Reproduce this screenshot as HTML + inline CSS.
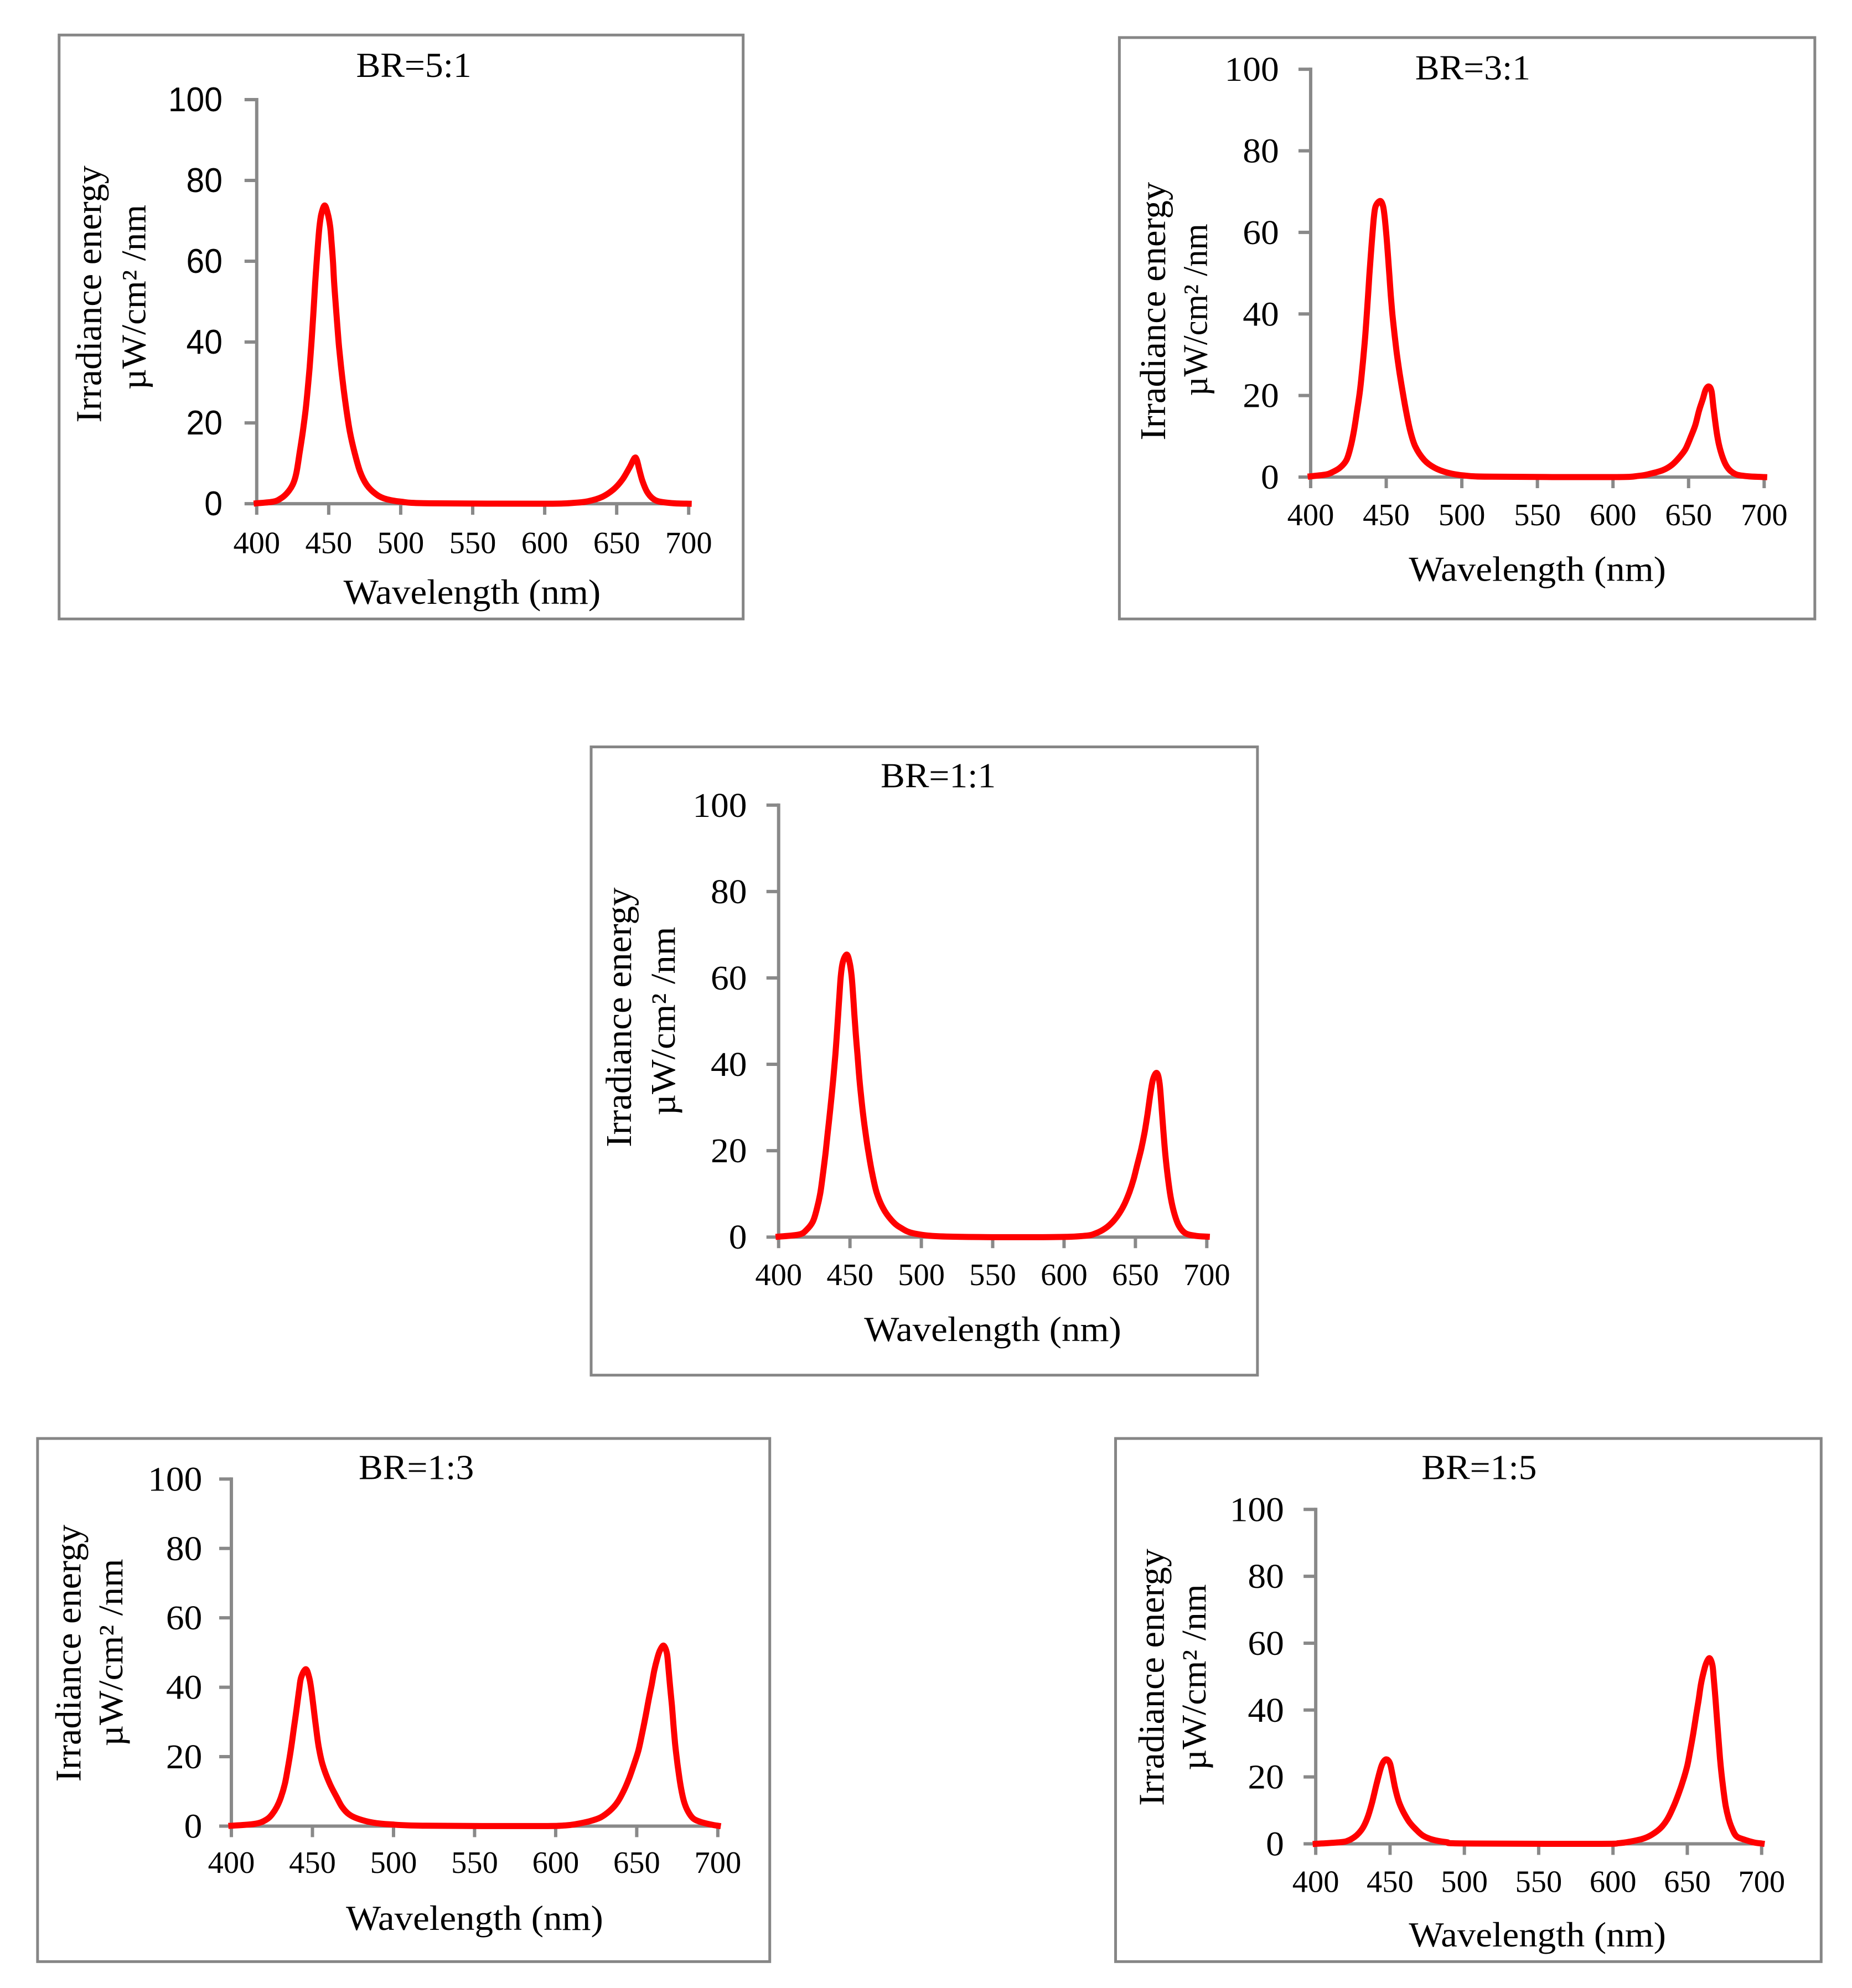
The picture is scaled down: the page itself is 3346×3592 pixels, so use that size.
<!DOCTYPE html>
<html lang="en">
<head>
<meta charset="utf-8">
<title>Irradiance spectra for five blue:red ratios</title>
<style>
html,body{margin:0;padding:0;background:#fff}
svg{display:block}
text{font-family:"Liberation Serif",serif;fill:#000}
</style>
</head>
<body>
<svg id="figure" xmlns="http://www.w3.org/2000/svg" width="3346" height="3592" viewBox="0 0 3346 3592"></svg>
<script>
const xTickLabels = [400, 450, 500, 550, 600, 650, 700];
const yTickLabels = [0, 20, 40, 60, 80, 100];

const wl51 = [400,411.5,416.7,421,425,427.5,429.8,432,433.9,435.4,436.7,437.8,438.8,439.7,440.6,441.6,442.7,443.6,444.9,447.2,449.4,451,451.9,453,453.8,454.9,456,457.2,458.7,460.4,462.4,464.7,468,471.8,476.3,482,488.5,500,520,600,620,630,640,648,654,659,662.4,664,666,668,671,675,680,690,700];
const irr51 = [0.1,0.5,1.3,2.6,4.7,7.5,12.6,17.8,23,28.3,33.5,38.7,44,49.2,54.5,59.7,65,68.6,71.7,73.8,71.7,68.6,65,59.7,54.5,49.2,44,38.7,33.5,28.3,23,17.8,12.6,7.9,4.7,2.6,1.3,0.5,0.1,0,0.2,0.6,1.7,3.6,6,9,11.3,10.8,8,5.5,3,1.3,0.5,0.1,0];

const wl31 = [400,409.6,413.8,419.4,423.7,426.5,428.6,430.6,432.5,433.9,435.1,436.2,437.1,438,438.8,439.7,440.7,441.8,443,446,447.9,449,450.2,451.2,452.1,453,454.1,455.5,457,458.8,460.9,463.2,465.9,469.2,475.1,481.9,490.4,501.5,520,600,617,624.5,633,639,644,648,651.5,654.5,657,659.4,661.3,663.5,665.2,666.4,667.6,668.8,670.2,672.3,674.8,677.8,682,689.5,700];
const irr31 = [0.2,0.6,1.1,2.3,4.2,7.5,11.3,16,20.8,25.6,30.3,35,39.8,44.6,49.3,54,58.8,63.6,66.4,67.7,66.4,63.6,58.8,54,49.3,44.6,39.8,35,30.3,25.6,20.8,16,11.3,7.5,4.2,2.3,1.1,0.4,0.1,0,0.3,0.8,1.7,3,4.9,6.9,9.9,12.8,16.4,19.1,21.4,22.2,21,17.3,13.7,10.5,7.8,5.1,2.9,1.5,0.6,0.2,0];

const wl11 = [400,414.4,419.6,424,427,429.3,431.2,432.9,434.4,435.9,437.3,438.6,439.8,440.8,441.7,442.6,443.6,445.1,447.7,449.6,451.1,452.2,453.1,454.1,455.2,456.3,457.6,459.1,460.9,463,465.4,468.6,473,478.9,485.3,495.6,520,590,614.6,622.4,628.8,634,638.5,642.4,645.9,648.8,651.4,654,656.4,658.5,660.5,662.4,665,666.9,668.2,669.5,671,672.7,674.7,677.3,680.5,685,692.1,700];
const irr11 = [0.1,0.6,1.7,3.6,6.8,10.4,15,19.5,24.1,28.7,33.2,37.8,42.4,46.9,51.5,56,60.6,63.8,65.4,63.8,60.6,56,51.5,46.9,42.4,37.8,33.2,28.7,24.1,19.5,15,10.4,6.8,4,2.2,0.8,0.1,0,0.3,0.9,2,3.5,5.4,7.7,10.5,13.5,16.9,20.3,24.2,28.5,33.2,36.6,38,35.7,30.6,25,19,13.9,9.2,5.4,2.6,0.9,0.3,0.1];

const wl13 = [400,412,417.7,422.3,425.1,428,430.5,433.1,435.2,437,438.6,440.2,441.7,443,445.9,448,449.4,450.8,452.2,453.8,456.2,460.5,465.1,468.3,472.5,478.2,487.3,497.6,520,590,606,612.9,620.9,627.7,633.4,638,642,645.4,648.6,651.1,653.1,655.2,657.3,659.1,660.8,662.6,664.3,666.6,668.5,669.4,670.5,671.7,672.6,673.6,674.6,675.8,677.4,679.2,681.4,684.8,689.4,696.2,700];
const irr13 = [0.1,0.5,1,2.1,3.4,5.5,8.2,12.4,17.8,23,28.4,33.7,39,42.8,45.2,42.8,39,33.7,28.4,23,17.8,12.4,8.2,5.5,3.4,2.1,1,0.5,0.1,0,0.2,0.6,1.4,2.5,4.4,6.8,10.2,13.9,18.2,21.9,26.2,31,36.3,40.5,44.8,48.2,50.6,52,50,46.4,40.5,34.7,29.4,24,19.8,15.5,10.7,7,4.4,2.2,1.2,0.4,0.1];

const wl15 = [400,417,422,426,429,432,435,438,441,444,446,448,450,451.5,453.5,456,459,463,467,472,479,488,500,590,604,612,620,626,632,636.5,640.5,644,647.5,650,652,654,656,657.6,659.2,661,662.7,665,666.9,667.8,669,670,671,672,673,674.2,675.8,677.8,680,683,688,695,700];
const irr15 = [0,0.5,1,2,3.2,5,8,12.5,18,23,24.8,25.2,24,21,16.5,12.5,9.5,6.5,4.5,2.5,1.2,0.5,0.1,0,0.2,0.7,1.5,2.7,4.7,7.3,10.9,14.8,19.4,23.4,28,33,38.7,43,47.8,51.4,54,55.5,53.4,49.5,43,37,31.4,25.6,21,16.5,11.4,7.5,4.7,2.3,1.3,0.4,0.1];

const S = 3346 / 1462;
const panels = [
  {id:'br-5-1', title:'BR=5:1', wl:wl51, irr:irr51, box:[46,27,586,488], ax:202, x700:543, y100:78, y0:397,
   titleX:326, titleY:60, labelRight:175, xLabelY:436, xTitleX:372, xTitleY:476,
   irrX:79, irrA:130, irrB:333, uwX:114, uwA:161, uwB:307, tickFont:'"Liberation Sans",sans-serif'},
  {id:'br-3-1', title:'BR=3:1', wl:wl31, irr:irr31, box:[883,29,1432,488], ax:1034, x700:1392, y100:54, y0:376,
   titleX:1162, titleY:62, labelRight:1009, xLabelY:414, xTitleX:1213, xTitleY:458,
   irrX:919, irrA:143, irrB:347, uwX:952, uwA:176, uwB:312},
  {id:'br-1-1', title:'BR=1:1', wl:wl11, irr:irr11, box:[466,589,992,1085], ax:614, x700:952, y100:635, y0:976,
   titleX:740, titleY:621, labelRight:589, xLabelY:1014, xTitleX:783, xTitleY:1058,
   irrX:497.5, irrA:700, irrB:905, uwX:532, uwA:731, uwB:880},
  {id:'br-1-3', title:'BR=1:3', wl:wl13, irr:irr13, box:[29,1135,607,1548], ax:182, x700:566, y100:1167, y0:1441,
   titleX:328, titleY:1167, labelRight:159, xLabelY:1478, xTitleX:374, xTitleY:1523,
   irrX:63, irrA:1203, irrB:1406, uwX:96, uwA:1230, uwB:1378},
  {id:'br-1-5', title:'BR=1:5', wl:wl15, irr:irr15, box:[880,1135,1437,1548], ax:1038, x700:1390, y100:1191, y0:1455,
   titleX:1167, titleY:1167, labelRight:1013, xLabelY:1493, xTitleX:1213, xTitleY:1536,
   irrX:918, irrA:1222, irrB:1425, uwX:951, uwA:1250, uwB:1397}
];

const NS = 'http://www.w3.org/2000/svg';
const root = document.getElementById('figure');

function make(parent, tag, attrs) {
  const el = document.createElementNS(NS, tag);
  for (const k in attrs) el.setAttribute(k, attrs[k]);
  parent.appendChild(el);
  return el;
}

function smoothPath(pts) {
  let d = 'M' + pts[0][0].toFixed(1) + ' ' + pts[0][1].toFixed(1);
  for (let i = 0; i < pts.length - 1; i++) {
    const p0 = pts[Math.max(i - 1, 0)], p1 = pts[i], p2 = pts[i + 1], p3 = pts[Math.min(i + 2, pts.length - 1)];
    const c1x = p1[0] + (p2[0] - p0[0]) / 6, c1y = p1[1] + (p2[1] - p0[1]) / 6;
    const c2x = p2[0] - (p3[0] - p1[0]) / 6, c2y = p2[1] - (p3[1] - p1[1]) / 6;
    d += 'C' + c1x.toFixed(1) + ' ' + c1y.toFixed(1) + ' ' + c2x.toFixed(1) + ' ' + c2y.toFixed(1) + ' ' + p2[0].toFixed(1) + ' ' + p2[1].toFixed(1);
  }
  return d;
}

panels.forEach(function (p) {
  const g = make(root, 'g', {transform:'translate(1.5,1.5)'});
  
  

  const frame = make(g, 'rect', {x:p.box[0]*S, y:p.box[1]*S, width:(p.box[2]-p.box[0])*S, height:(p.box[3]-p.box[1])*S, fill:'#fff', stroke:'#868686', 'stroke-width':5});
  
  

  const xScale = function (v) { return (p.ax + (v - 400) / 300 * (p.x700 - p.ax)) * S; };
  const yScale = function (v) { return (p.y0 - v / 100 * (p.y0 - p.y100)) * S; };
  const AXC = '#898989', AXW = 6, TICK = 22;

  const title = make(g, 'text', {x:p.titleX*S, y:p.titleY*S, 'text-anchor':'middle', 'font-size':64, textLength:91*S, lengthAdjust:'spacingAndGlyphs'});
  title.textContent = p.title;
  
  

  const yAxis = make(g, 'line', {x1:xScale(400), x2:xScale(400), y1:yScale(100)-3, y2:yScale(0), stroke:AXC, 'stroke-width':AXW});
  
  

  const xAxis = make(g, 'line', {x1:xScale(400), x2:xScale(700)+3, y1:yScale(0), y2:yScale(0), stroke:AXC, 'stroke-width':AXW});
  
  

  yTickLabels.forEach(function (v) {
    const t = make(g, 'line', {x1:xScale(400)-TICK, x2:xScale(400), y1:yScale(v), y2:yScale(v), stroke:AXC, 'stroke-width':AXW});
    
    
    const s = String(v);
    const lab = make(g, 'text', {x:p.labelRight*S, y:yScale(v)+21, 'text-anchor':'end', 'font-size':62, textLength:s.length*14.3*S, lengthAdjust:'spacingAndGlyphs'});
    if (p.tickFont) lab.setAttribute('style', 'font-family:' + p.tickFont);
    lab.textContent = s;
    
    
  });

  xTickLabels.forEach(function (v) {
    const t = make(g, 'line', {x1:xScale(v), x2:xScale(v), y1:yScale(0), y2:yScale(0)+20, stroke:AXC, 'stroke-width':AXW});
    
    
    const lab = make(g, 'text', {x:xScale(v), y:p.xLabelY*S, 'text-anchor':'middle', 'font-size':56, textLength:37*S, lengthAdjust:'spacingAndGlyphs'});
    lab.textContent = String(v);
    
    
  });

  const xTitle = make(g, 'text', {x:p.xTitleX*S, y:p.xTitleY*S, 'text-anchor':'middle', 'font-size':64, textLength:203*S, lengthAdjust:'spacingAndGlyphs'});
  xTitle.textContent = 'Wavelength (nm)';
  
  

  const irrCy = (p.irrA + p.irrB) / 2 * S;
  const yTitle = make(g, 'text', {x:0, y:0, transform:'translate(' + p.irrX*S + ',' + irrCy + ') rotate(-90)', 'text-anchor':'middle', 'font-size':66, textLength:(p.irrB-p.irrA)*S, lengthAdjust:'spacingAndGlyphs'});
  yTitle.textContent = 'Irradiance energy';
  
  

  const uwCy = (p.uwA + p.uwB) / 2 * S;
  const yUnit = make(g, 'text', {x:0, y:0, transform:'translate(' + p.uwX*S + ',' + uwCy + ') rotate(-90)', 'text-anchor':'middle', 'font-size':62, textLength:(p.uwB-p.uwA)*S, lengthAdjust:'spacingAndGlyphs'});
  yUnit.textContent = 'µW/cm² /nm';
  
  

  const pts = p.wl.map(function (w, i) { return [xScale(w), yScale(p.irr[i])]; });
  const line = make(g, 'path', {d:smoothPath(pts), fill:'none', stroke:'#ff0000', 'stroke-width':11, 'stroke-linejoin':'round', 'stroke-linecap':'square'});
  
  
});
</script>
</body>
</html>
